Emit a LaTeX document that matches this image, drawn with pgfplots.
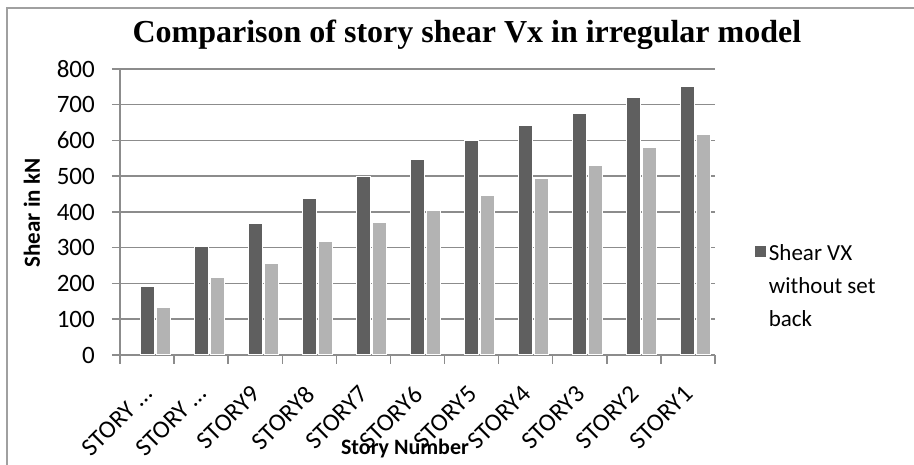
\documentclass[border=0pt]{standalone}
\usepackage{pgfplots}
\pgfplotsset{compat=1.18}
\usepackage{fontspec}
\setmainfont{Carlito}
\newfontfamily\titlefont{Liberation Serif}
\definecolor{darkbar}{HTML}{5F5F5F}
\definecolor{lightbar}{HTML}{B3B3B3}
\definecolor{gridc}{HTML}{8C8C8C}
\definecolor{framec}{HTML}{A0A0A0}
\begin{document}
\begin{tikzpicture}
\useasboundingbox (-120pt,-110pt) rectangle (794pt,355pt);
\fill[white] (-120pt,-110pt) rectangle (794pt,355pt);
\draw[framec, line width=1.5pt] (-113pt,-112pt) -- (-113pt,347pt) -- (800pt,347pt);
\begin{axis}[
  at={(0pt,0pt)}, anchor=south west,
  scale only axis, width=595pt, height=286pt,
  ybar=2pt, bar width=14pt,
  xmin=-0.5, xmax=10.5, ymin=0, ymax=800,
  ytick={0,100,...,800},
  xtick={0,...,10},
  xticklabels={STORY \dots, STORY \dots, STORY9, STORY8, STORY7, STORY6, STORY5, STORY4, STORY3, STORY2, STORY1},
  minor xtick={-0.5,0.5,...,10.5},
  axis x line=bottom, axis y line=left,
  axis line style={gridc, line width=1.5pt, -},
  ymajorgrids, grid style={gridc, line width=1.5pt},
  tick align=outside,
  major x tick style={draw=none},
  minor x tick style={gridc, line width=1.5pt},
  minor tick length=9pt,
  major tick length=8pt,
  ytick style={gridc, line width=1.5pt},
  /pgf/number format/assume math mode=true,
  tick label style={font=\fontsize{25}{29}\selectfont},
  xticklabel style={xshift=-5pt, yshift=-21pt, rotate=45, anchor=north east, inner sep=0pt},
  yticklabel style={inner sep=0pt, xshift=-17pt},
  title={\titlefont\bfseries Comparison of story shear Vx in irregular model},
  title style={at={(axis description cs:0.583,1)}, anchor=base, yshift=20pt, font=\fontsize{32}{36}\selectfont},
  xlabel={\bfseries Story Number},
  xlabel style={at={(axis description cs:0.479,0)}, anchor=base, yshift=-100pt, font=\fontsize{22}{26}\selectfont},
  ylabel={\bfseries Shear in kN},
  ylabel style={at={(axis description cs:-0.148,0.497)}, anchor=center, rotate=0, font=\fontsize{23}{27}\selectfont},
  legend style={draw=none, fill=none, at={(1.06,0.40)}, anchor=north west, font=\fontsize{23}{33}\selectfont, nodes={align=left}},
  legend cell align=left,
  legend image code/.code={\fill[#1] (0pt,29pt) rectangle (12pt,41pt);},
]
\addplot[fill=darkbar, draw=white, line width=1pt] coordinates {
(0,192) (1,303) (2,367) (3,438) (4,499) (5,547) (6,599) (7,641) (8,676) (9,720) (10,750)};
\addlegendentry{Shear VX\\without set\\back}
\addplot[fill=lightbar, draw=white, line width=1pt, forget plot] coordinates {
(0,134) (1,216) (2,257) (3,318) (4,371) (5,405) (6,447) (7,494) (8,530) (9,581) (10,617)};
\end{axis}
\end{tikzpicture}
\end{document}
